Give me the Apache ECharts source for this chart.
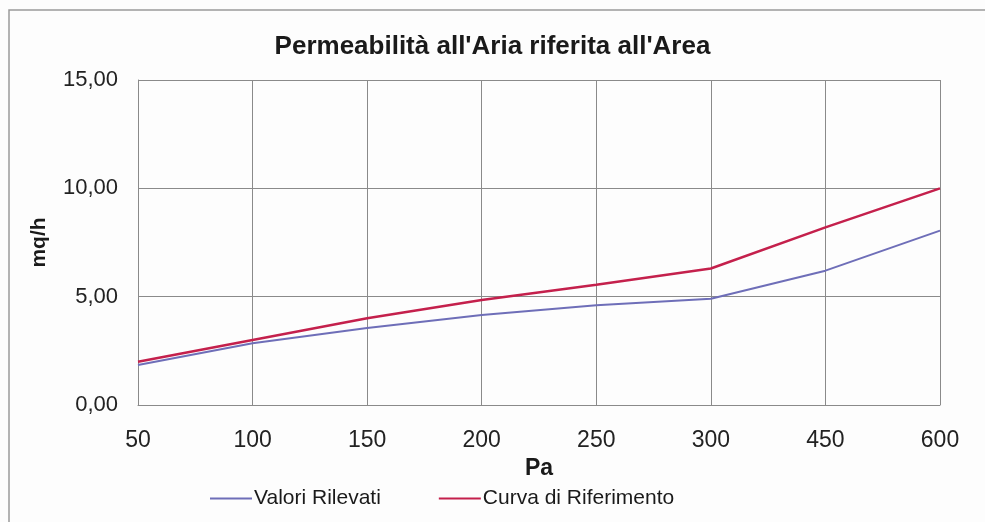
<!DOCTYPE html>
<html>
<head>
<meta charset="utf-8">
<script src="https://cdn.jsdelivr.net/npm/echarts@6/dist/echarts.min.js"></script>
<style>
html,body{margin:0;padding:0;background:#fff;}
#c{width:985px;height:522px;}
</style>
</head>
<body>
<div id="c"></div>
<script>
const categories = ['50','100','150','200','250','300','450','600'];
const valoriRilevati = [1.85, 2.85, 3.55, 4.15, 4.6, 4.9, 6.2, 8.05];
const curvaRiferimento = [2.0, 3.0, 4.0, 4.85, 5.55, 6.3, 8.2, 10.0];
const yTicks = {min: 0, max: 15, interval: 5};

const FONT = "'Liberation Sans', Arial, sans-serif";
const chart = echarts.init(document.getElementById('c'));
chart.setOption({
  backgroundColor: '#fdfdfd',
  animation: false,
  title: {
    text: "Permeabilità all'Aria riferita all'Area",
    left: 'center', top: 29,
    textStyle: {fontFamily: FONT, fontSize: 26, fontWeight: 'bold', color: '#1a1a1a'}
  },
  graphic: [{
    type: 'rect', shape: {x: 9, y: 10, width: 990, height: 530},
    style: {fill: 'none', stroke: '#9a9a9a', lineWidth: 1.5}, silent: true
  }],
  grid: {left: 138, right: 45, top: 80, bottom: 117},
  legend: {
    bottom: 8, left: 205,
    icon: 'rect', itemWidth: 42, itemHeight: 2, itemGap: 58,
    textStyle: {fontFamily: FONT, fontSize: 21, color: '#1a1a1a', padding: [0,0,0,-3]},
    data: ['Valori Rilevati', 'Curva di Riferimento']
  },
  xAxis: {
    type: 'category', data: categories, boundaryGap: false,
    name: 'Pa', nameLocation: 'middle', nameGap: 48,
    nameTextStyle: {fontFamily: FONT, fontSize: 23, fontWeight: 'bold', color: '#1a1a1a'},
    axisLine: {lineStyle: {color: '#8a8a8a', width: 1}},
    axisTick: {show: false},
    axisLabel: {fontFamily: FONT, fontSize: 23, color: '#222', margin: 24},
    splitLine: {show: true, lineStyle: {color: '#8a8a8a', width: 1}}
  },
  yAxis: {
    type: 'value', min: yTicks.min, max: yTicks.max, interval: yTicks.interval,
    name: 'mq/h', nameLocation: 'middle', nameGap: 88, nameRotate: 90,
    nameTextStyle: {fontFamily: FONT, fontSize: 21, fontWeight: 'bold', color: '#1a1a1a'},
    axisLine: {show: true, lineStyle: {color: '#8a8a8a', width: 1}},
    axisTick: {show: false},
    axisLabel: {fontFamily: FONT, fontSize: 22, color: '#222', margin: 20,
      formatter: v => v.toFixed(2).replace('.', ',')},
    splitLine: {show: true, lineStyle: {color: '#8a8a8a', width: 1}}
  },
  series: [
    {name: 'Valori Rilevati', type: 'line', data: valoriRilevati, symbol: 'none',
      lineStyle: {color: '#6e6eb8', width: 2}, itemStyle: {color: '#6e6eb8'}},
    {name: 'Curva di Riferimento', type: 'line', data: curvaRiferimento, symbol: 'none',
      lineStyle: {color: '#c4204c', width: 2.5}, itemStyle: {color: '#c4204c'}}
  ]
});
</script>
</body>
</html>
